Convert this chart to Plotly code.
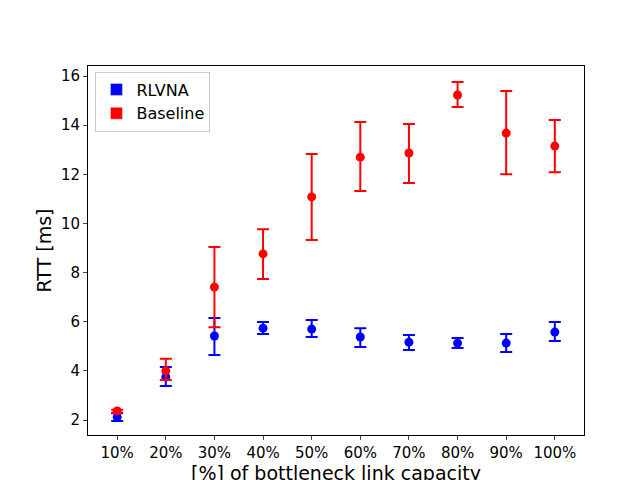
import plotly.graph_objects as go

capacity = ["10%", "20%", "30%", "40%", "50%", "60%", "70%", "80%", "90%", "100%"]

baseline_mean = [2.37, 4.0, 7.41, 8.76, 11.08, 12.7, 12.87, 15.23, 13.68, 13.15]
baseline_hi = [2.42, 4.49, 9.04, 9.77, 12.83, 14.13, 14.05, 15.76, 15.39, 14.21]
baseline_lo = [2.30, 3.63, 5.78, 7.74, 9.33, 11.32, 11.65, 14.74, 12.0, 12.09]

rlvna_mean = [2.12, 3.75, 5.42, 5.74, 5.7, 5.38, 5.17, 5.13, 5.13, 5.58]
rlvna_hi = [2.28, 4.16, 6.15, 5.99, 6.07, 5.74, 5.46, 5.34, 5.5, 5.99]
rlvna_lo = [1.96, 3.38, 4.65, 5.5, 5.38, 4.97, 4.85, 4.93, 4.77, 5.22]


def err(mean, hi, lo):
    return dict(type="data", symmetric=False,
                array=[h - m for h, m in zip(hi, mean)],
                arrayminus=[m - l for m, l in zip(mean, lo)],
                thickness=2, width=6)


fig = go.Figure()
for name, color, mean, hi, lo in [
    ("RLVNA", "blue", rlvna_mean, rlvna_hi, rlvna_lo),
    ("Baseline", "red", baseline_mean, baseline_hi, baseline_lo),
]:
    e = err(mean, hi, lo)
    e["color"] = color
    fig.add_trace(go.Scatter(x=capacity, y=mean, mode="markers", error_y=e,
                             marker=dict(color=color, size=9), showlegend=False))
    # legend patch only
    fig.add_trace(go.Bar(x=[capacity[0]], y=[None], name=name, marker_color=color))

fig.update_layout(
    width=640, height=480, autosize=False,
    plot_bgcolor="white", paper_bgcolor="white",
    margin=dict(l=80, r=64, t=58, b=53, pad=0),
    font=dict(family="DejaVu Sans", size=15, color="black"),
    legend=dict(x=0.015, y=0.985, xanchor="left", yanchor="top",
                bordercolor="#cccccc", borderwidth=1, font=dict(size=16)),
    xaxis=dict(title=dict(text="[%] of bottleneck link capacity", font=dict(size=19), standoff=4),
               automargin=False, range=[-0.6, 9.6], showline=True, linecolor="black",
               mirror=True, ticks="outside", ticklen=4, showgrid=False),
    yaxis=dict(title=dict(text="RTT [ms]", font=dict(size=19), standoff=4),
               automargin=False, range=[1.39, 16.41], dtick=2, showline=True,
               linecolor="black", mirror=True, ticks="outside", ticklen=4,
               showgrid=False, zeroline=False),
)

fig.write_html("out.html")
